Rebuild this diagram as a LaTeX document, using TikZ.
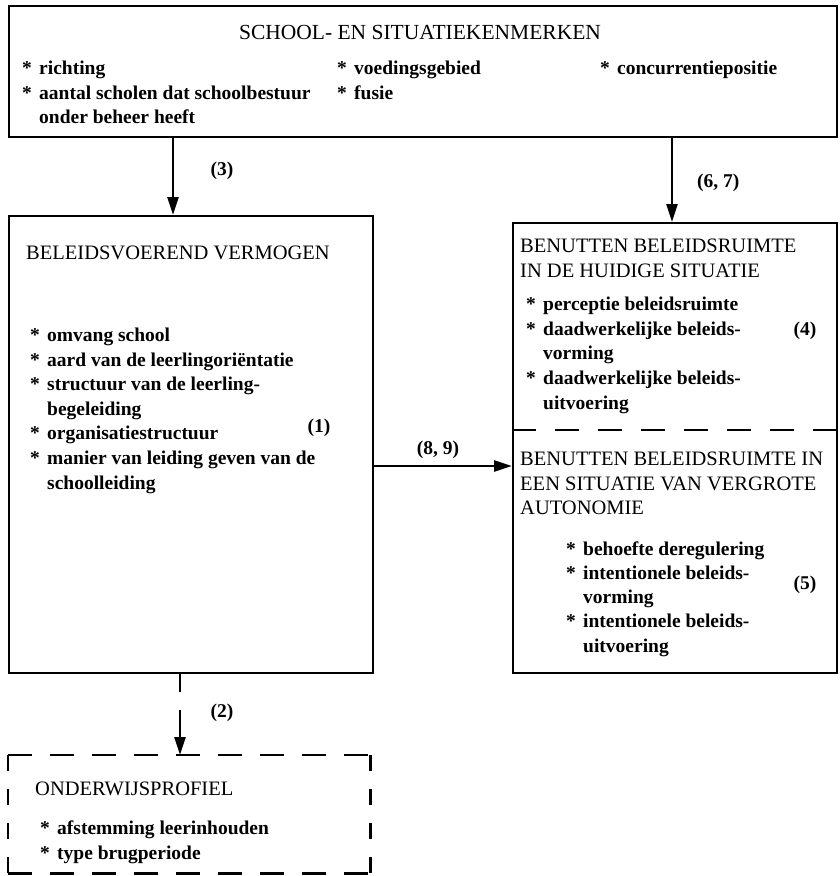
\documentclass[tikz,border=0pt]{standalone}
\usepackage{fontspec}
\setmainfont{Liberation Serif}
\usetikzlibrary{arrows.meta}

\newcommand\itemfont{\fontsize{19.5}{24}\selectfont\bfseries}
\newcommand\kopfont{\fontsize{20.5}{24}\selectfont}
\newcommand\ster{\makebox[17pt][l]{*}}

\tikzset{
	kader/.style={draw, line width=2.4pt, anchor=north west, inner sep=0pt},
	leeg/.style={anchor=north west, inner sep=0pt},
	streep/.style={line width=2.4pt, dash pattern=on 24pt off 18pt},
	kop/.style={anchor=base west, inner sep=0pt, font=\kopfont},
	punt/.style={anchor=base west, inner sep=0pt, font=\itemfont},
	nummer/.style={anchor=base, inner sep=0pt, font=\itemfont},
	pijl/.style={line width=2.4pt, -{Triangle[length=18pt,width=11pt]}}
}

\begin{document}
\begin{tikzpicture}[x=1pt,y=-1pt]
		\useasboundingbox (0,0) rectangle (840,876);
		% boxes
		\path (8,5) node(kenmerken) [kader, minimum width=828pt, minimum height=131pt] {};
		\path (8,215) node(vermogen) [kader, minimum width=364pt, minimum height=457pt] {};
		\path (512,222) node(ruimte) [kader, minimum width=324pt, minimum height=450pt] {};
		\path (8,755) node(profiel) [leeg, minimum width=362pt, minimum height=118pt] {};
		\draw[streep] (profiel.north west) -- (profiel.north east);
		\draw[streep] (profiel.south west) -- (profiel.south east);
		\draw[streep, dash pattern=on 16pt off 18pt] (profiel.north west) -- (profiel.south west);
		\draw[streep, dash pattern=on 16pt off 18pt] (profiel.north east) -- (profiel.south east);

		% school- en situatiekenmerken
		\path (420,39) node(kop_kenmerken) [nummer, font=\fontsize{21.5}{24}\selectfont] {SCHOOL- EN SITUATIEKENMERKEN};
		\path (22,74) node(richting) [punt] {\ster richting};
		\path (22,99) node(aantal) [punt] {\ster aantal scholen dat schoolbestuur};
		\path (39,123) node(aantal_b) [punt] {onder beheer heeft};
		\path (337,74) node(voeding) [punt] {\ster voedingsgebied};
		\path (337,99) node(fusie) [punt] {\ster fusie};
		\path (600,74) node(concurrentie) [punt] {\ster concurrentiepositie};

		% beleidsvoerend vermogen
		\path (26,259) node(kop_vermogen) [kop] {BELEIDSVOEREND VERMOGEN};
		\path (30,341) node(omvang) [punt] {\ster omvang school};
		\path (30,366) node(aard) [punt] {\ster aard van de leerlingoriëntatie};
		\path (30,390) node(structuur) [punt] {\ster structuur van de leerling-};
		\path (47,415) node(structuur_b) [punt] {begeleiding};
		\path (30,439) node(organisatie) [punt] {\ster organisatiestructuur};
		\path (30,464) node(manier) [punt] {\ster manier van leiding geven van de};
		\path (47,489) node(manier_b) [punt] {schoolleiding};
		\path (319,432) node(nr1) [nummer] {(1)};

		% benutten beleidsruimte, huidige situatie
		\path (520,252) node(kop_huidig) [kop] {BENUTTEN BELEIDSRUIMTE};
		\path (520,277) node(kop_huidig_b) [kop] {IN DE HUIDIGE SITUATIE};
		\path (526,310) node(perceptie) [punt] {\ster perceptie beleidsruimte};
		\path (526,335) node(vorming) [punt] {\ster daadwerkelijke beleids-};
		\path (543,359) node(vorming_b) [punt] {vorming};
		\path (526,384) node(uitvoering) [punt] {\ster daadwerkelijke beleids-};
		\path (543,409) node(uitvoering_b) [punt] {uitvoering};
		\path (805,335) node(nr4) [nummer] {(4)};
		\path (512,430) coordinate (deel_l);
		\path (836,430) coordinate (deel_r);
		\draw[streep, dash pattern=on 24pt off 19pt] (deel_l) -- (deel_r);

		% benutten beleidsruimte, vergrote autonomie
		\path (520,465) node(kop_auto) [kop] {BENUTTEN BELEIDSRUIMTE IN};
		\path (520,490) node(kop_auto_b) [kop] {EEN SITUATIE VAN VERGROTE};
		\path (520,514) node(kop_auto_c) [kop] {AUTONOMIE};
		\path (566,555) node(deregulering) [punt] {\ster behoefte deregulering};
		\path (566,579) node(int_vorming) [punt] {\ster intentionele beleids-};
		\path (583,603) node(int_vorming_b) [punt] {vorming};
		\path (566,627) node(int_uitvoering) [punt] {\ster intentionele beleids-};
		\path (583,652) node(int_uitvoering_b) [punt] {uitvoering};
		\path (805,589) node(nr5) [nummer] {(5)};

		% onderwijsprofiel
		\path (35,795) node(kop_profiel) [kop] {ONDERWIJSPROFIEL};
		\path (40,834) node(afstemming) [punt] {\ster afstemming leerinhouden};
		\path (40,859) node(brugperiode) [punt] {\ster type brugperiode};

		% arrows
		\path (173,0) coordinate (k3);
		\path (672,0) coordinate (k67);
		\path (0,466) coordinate (k89);
		\path (180,0) coordinate (k2);
		\draw[pijl] (kenmerken.south -| k3) -- (vermogen.north -| k3);
		\draw[pijl] (kenmerken.south -| k67) -- (ruimte.north -| k67);
		\draw[pijl] (vermogen.east |- k89) -- (ruimte.west |- k89);
		\draw[pijl, dash pattern=on 18pt off 18pt on 100pt off 1pt] (vermogen.south -| k2) -- (profiel.north -| k2);
		\path (222,175) node(nr3) [nummer] {(3)};
		\path (697,187) node(nr67) [punt] {(6, 7)};
		\path (438,454) node(nr89) [nummer] {(8, 9)};
		\path (222,717) node(nr2) [nummer] {(2)};
	\end{tikzpicture}
\end{document}
